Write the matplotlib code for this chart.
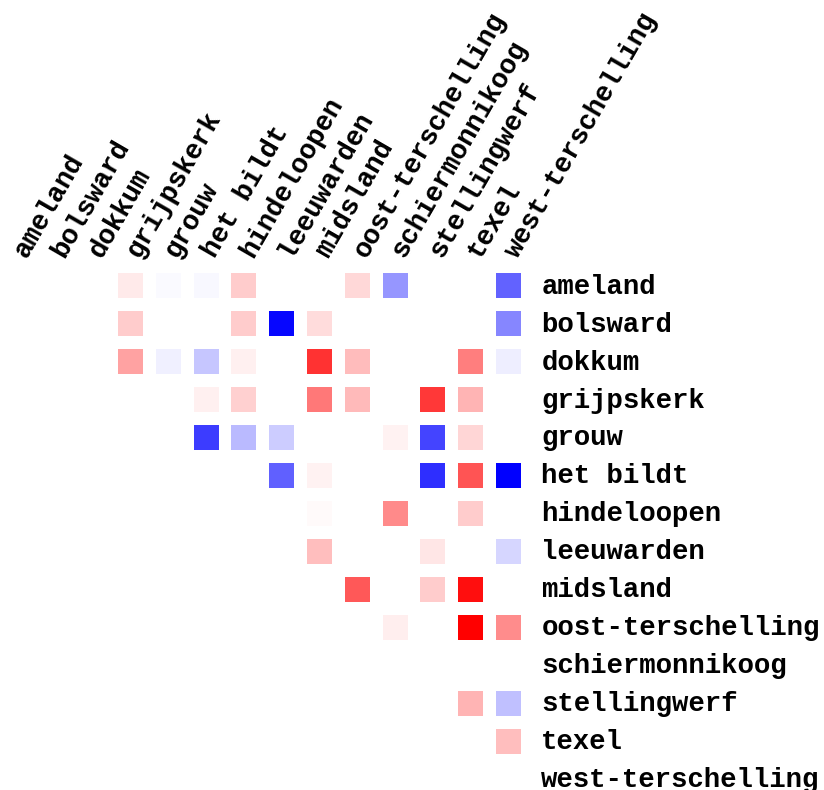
import numpy as np
import matplotlib
matplotlib.use("Agg")
import matplotlib.pyplot as plt

places = [
    "ameland", "bolsward", "dokkum", "grijpskerk", "grouw", "het bildt",
    "hindeloopen", "leeuwarden", "midsland", "oost-terschelling",
    "schiermonnikoog", "stellingwerf", "texel", "west-terschelling",
]

# upper-triangle scores per row: {column index: value}
ameland = {3: 0.08, 4: -0.02, 5: -0.03, 6: 0.20, 9: 0.15, 10: -0.41, 13: -0.61}
bolsward = {3: 0.20, 6: 0.20, 7: -0.97, 8: 0.14, 13: -0.47}
dokkum = {3: 0.36, 4: -0.06, 5: -0.22, 6: 0.06, 8: 0.80, 9: 0.26, 12: 0.50, 13: -0.07}
grijpskerk = {5: 0.06, 6: 0.18, 8: 0.53, 9: 0.27, 11: 0.78, 12: 0.29}
grouw = {5: -0.76, 6: -0.27, 7: -0.20, 10: 0.05, 11: -0.73, 12: 0.16}
het_bildt = {7: -0.62, 8: 0.05, 11: -0.82, 12: 0.67, 13: -1.00}
hindeloopen = {8: 0.02, 10: 0.46, 12: 0.20}
leeuwarden = {8: 0.25, 11: 0.10, 13: -0.16}
midsland = {9: 0.65, 11: 0.20, 12: 0.94}
oost_terschelling = {10: 0.07, 12: 1.00, 13: 0.45}
schiermonnikoog = {}
stellingwerf = {12: 0.29, 13: -0.25}
texel = {13: 0.25}
west_terschelling = {}

rows = [ameland, bolsward, dokkum, grijpskerk, grouw, het_bildt, hindeloopen,
        leeuwarden, midsland, oost_terschelling, schiermonnikoog,
        stellingwerf, texel, west_terschelling]

xs, ys, vals = [], [], []
for i, row in enumerate(rows):
    for j, v in row.items():
        xs.append(j)
        ys.append(i)
        vals.append(v)

plt.rcParams["font.family"] = ["Liberation Mono", "DejaVu Sans Mono"]

fig = plt.figure(figsize=(8.24, 7.90), dpi=100)
ax = fig.add_axes([0, 0, 530 / 824, 525 / 790])
ax.scatter(xs, ys, c=vals, cmap="bwr", vmin=-1, vmax=1, marker="s",
           s=324, linewidths=0)
ax.set_xlim(-0.452, 13.57)
ax.set_ylim(13.29, -0.54)
ax.axis("off")

for i, name in enumerate(places):
    # row names on the right, column names slanted across the top
    ax.text(13.87, i + 0.03, name, ha="left", va="center", fontsize=19.7,
            fontweight="bold", clip_on=False)
    ax.text(i + 0.24, -0.69, name, ha="left", va="baseline", rotation=60,
            rotation_mode="anchor", fontsize=19.7, fontweight="bold",
            clip_on=False)

fig.savefig("out.png", dpi=100, facecolor="white")
